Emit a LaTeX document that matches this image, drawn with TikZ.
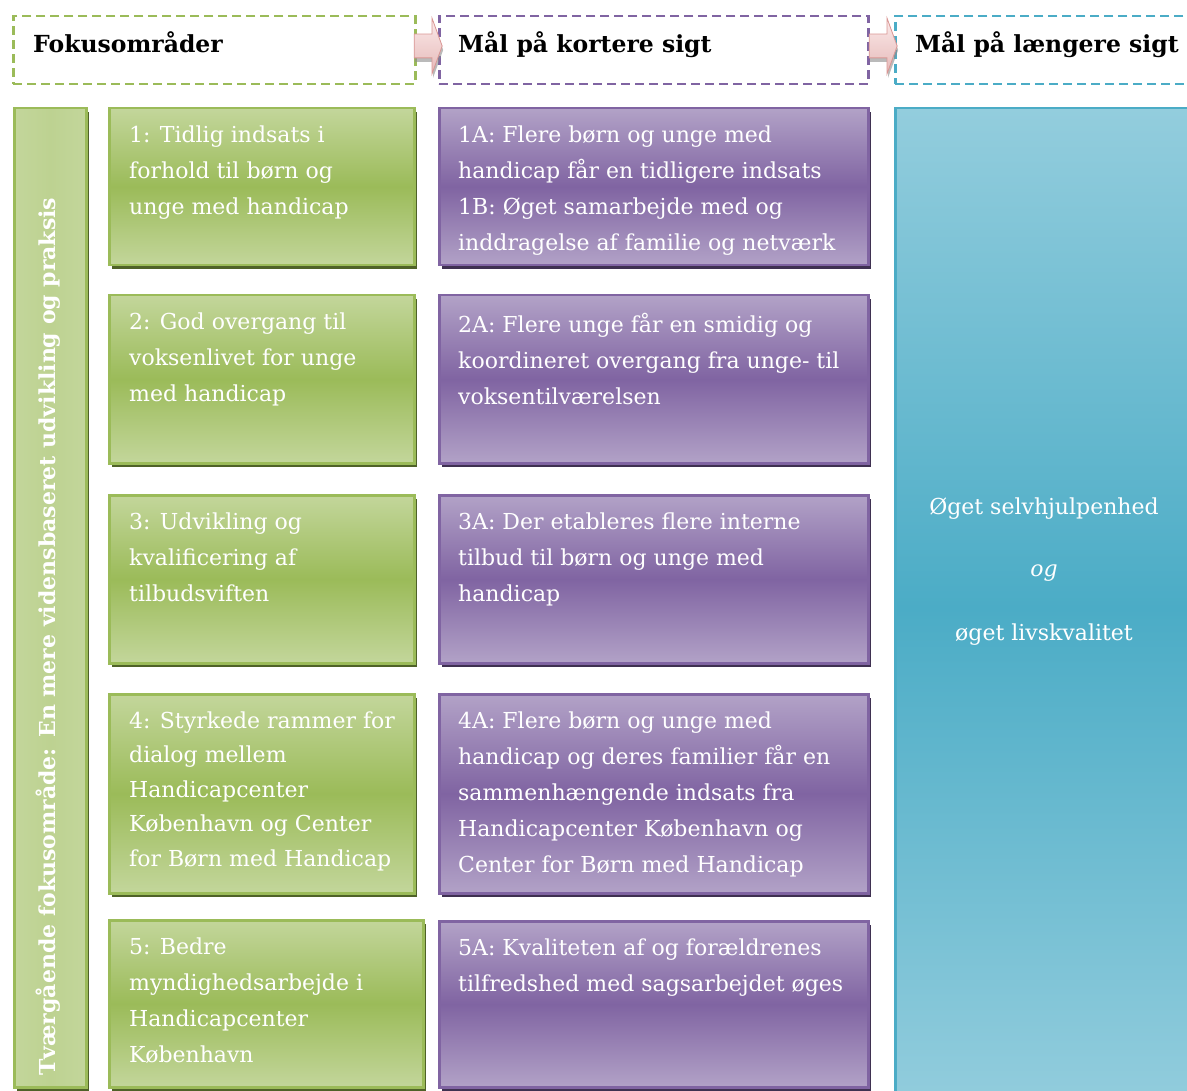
\documentclass[tikz,border=0pt]{standalone}
\usepackage{fontspec}
\setmainfont{DejaVu Serif}
\usetikzlibrary{shapes.arrows, shadows, positioning, calc}

\definecolor{gborder}{HTML}{9BBB59}
\definecolor{glight}{HTML}{C3D69B}
\definecolor{gdark}{HTML}{9BBB59}
\definecolor{gshadow}{HTML}{4F6228}
\definecolor{pborder}{HTML}{8064A2}
\definecolor{plight}{HTML}{B2A2C7}
\definecolor{pdark}{HTML}{8064A2}
\definecolor{pshadow}{HTML}{3F3151}
\definecolor{cborder}{HTML}{4BACC6}
\definecolor{clight}{HTML}{93CDDD}
\definecolor{cdark}{HTML}{4BACC6}
\definecolor{pinklight}{HTML}{FBEAEA}
\definecolor{pinkdark}{HTML}{E6B9B8}
\definecolor{pinkborder}{HTML}{D99694}

\begin{document}
\begin{tikzpicture}[
    x=1pt, y=-1pt,
    font=\fontsize{22}{36}\selectfont,
    hbox/.style={draw, line width=2.5pt, dash pattern=on 9pt off 5pt,
                 anchor=north west, inner sep=0, minimum height=68pt},
    htext/.style={font=\fontsize{23.5}{28}\selectfont\bfseries, anchor=base west,
                  inner sep=0},
    harrow/.style={single arrow, draw=pinkborder, line width=0.8pt,
                   top color=pinklight, bottom color=pinkdark,
                   minimum height=28pt, inner xsep=0pt, inner ysep=11.5pt,
                   single arrow head extend=16pt, single arrow tip angle=140,
                   drop shadow={shadow xshift=1pt, shadow yshift=-4pt,
                                fill=black!45, opacity=0.6}},
    gbox/.style={draw=gborder, line width=2.5pt, top color=glight,
                 bottom color=glight, middle color=gdark, anchor=north west,
                 inner sep=0, minimum width=305pt,
                 drop shadow={shadow xshift=3pt, shadow yshift=-4pt,
                              fill=gshadow, opacity=1}},
    pbox/.style={draw=pborder, line width=2.5pt, top color=plight,
                 bottom color=plight, middle color=pdark, anchor=north west,
                 inner sep=0, minimum width=429pt,
                 drop shadow={shadow xshift=3pt, shadow yshift=-4pt,
                              fill=pshadow, opacity=1}},
    btext/.style={text=white, align=left, anchor=north west, inner sep=0,
                  execute at begin node=\strut},
    ctext/.style={text=white, inner sep=0},
]
    \clip (0,0) rectangle (1187,1091);

    %==================== HEADERS ====================
    \node[hbox, draw=gborder, minimum width=402pt] (h1) at (12,15) {};
    \node[hbox, draw=pborder, minimum width=429pt] (h2) at (438,15) {};
    \node[hbox, draw=cborder, minimum width=320pt] (h3) at (894,15) {};
    \node[htext] (t1) at (33,53) {Fokusområder};
    \node[htext] (t2) at (458,53) {Mål på kortere sigt};
    \node[htext] (t3) at (915,53) {Mål på længere sigt};

    \node[harrow] (a1) at (426,46) {};
    \node[harrow] (a2) at (881,46) {};

    %==================== CROSS-CUTTING BAR ====================
    \node[draw=gborder, line width=2.5pt, left color=glight, right color=glight,
          middle color=glight!85!gdark, anchor=north west, inner sep=0,
          minimum width=72pt, minimum height=979pt,
          drop shadow={shadow xshift=3pt, shadow yshift=-4pt, fill=gshadow, opacity=1}]
        (bar) at (13,107) {};
    \node[text=white, font=\fontsize{22}{26}\selectfont\bfseries, rotate=90,
          anchor=west, inner sep=0] (bartext) at (48,1076)
        {Tværgående fokusområde: En mere vidensbaseret udvikling og praksis};

    %==================== FOCUS AREAS ====================
    \node[gbox, minimum height=157pt] (g1) at (108,107) {};
    \node[gbox, minimum height=168pt] (g2) at (108,294) {};
    \node[gbox, minimum height=168pt] (g3) at (108,494) {};
    \node[gbox, minimum height=199pt] (g4) at (108,693) {};
    \node[gbox, minimum height=167pt, minimum width=314pt] (g5) at (108,919) {};

    \node[btext] (g1t) at ([xshift=21pt, yshift=-18.5pt]g1.north west)
        {1: Tidlig indsats i\\forhold til børn og\\unge med handicap};
    \node[btext] (g2t) at ([xshift=21pt, yshift=-18.5pt]g2.north west)
        {2: God overgang til\\voksenlivet for unge\\med handicap};
    \node[btext] (g3t) at ([xshift=21pt, yshift=-18.5pt]g3.north west)
        {3: Udvikling og\\kvalificering af\\tilbudsviften};
    \node[btext, font=\fontsize{22}{34.5}\selectfont] (g4t)
        at ([xshift=21pt, yshift=-18.5pt]g4.north west)
        {4: Styrkede rammer for\\dialog mellem\\Handicapcenter\\København og Center\\for Børn med Handicap};
    \node[btext] (g5t) at ([xshift=21pt, yshift=-18.5pt]g5.north west)
        {5: Bedre\\myndighedsarbejde i\\Handicapcenter\\København};

    %==================== SHORT-TERM GOALS ====================
    \node[pbox, minimum height=157pt] (p1) at (438,107) {};
    \node[pbox, minimum height=168pt] (p2) at (438,294) {};
    \node[pbox, minimum height=168pt] (p3) at (438,494) {};
    \node[pbox, minimum height=199pt] (p4) at (438,693) {};
    \node[pbox, minimum height=166pt] (p5) at (438,920) {};

    \node[btext] (p1t) at ([xshift=20pt, yshift=-18.5pt]p1.north west)
        {1A: Flere børn og unge med\\handicap får en tidligere indsats\\1B: Øget samarbejde med og\\inddragelse af familie og netværk};
    \node[btext] (p2t) at ([xshift=20pt, yshift=-18.5pt]p2.north west)
        {2A: Flere unge får en smidig og\\koordineret overgang fra unge- til\\voksentilværelsen};
    \node[btext] (p3t) at ([xshift=20pt, yshift=-18.5pt]p3.north west)
        {3A: Der etableres flere interne\\tilbud til børn og unge med\\handicap};
    \node[btext] (p4t) at ([xshift=20pt, yshift=-18.5pt]p4.north west)
        {4A: Flere børn og unge med\\handicap og deres familier får en\\sammenhængende indsats fra\\Handicapcenter København og\\Center for Børn med Handicap};
    \node[btext] (p5t) at ([xshift=20pt, yshift=-18.5pt]p5.north west)
        {5A: Kvaliteten af og forældrenes\\tilfredshed med sagsarbejdet øges};

    %==================== LONG-TERM GOAL ====================
    \node[draw=cborder, line width=2.5pt, top color=clight, bottom color=clight,
          middle color=cdark, anchor=north west, inner sep=0,
          minimum width=320pt, minimum height=1000pt] (c) at (894,107) {};
    \node[ctext] (c1) at (1044,509) {Øget selvhjulpenhed};
    \node[ctext, font=\fontsize{22}{36}\selectfont\itshape] (c2) at (1044,573) {og};
    \node[ctext] (c3) at (1044,635) {øget livskvalitet};

\end{tikzpicture}
\end{document}
